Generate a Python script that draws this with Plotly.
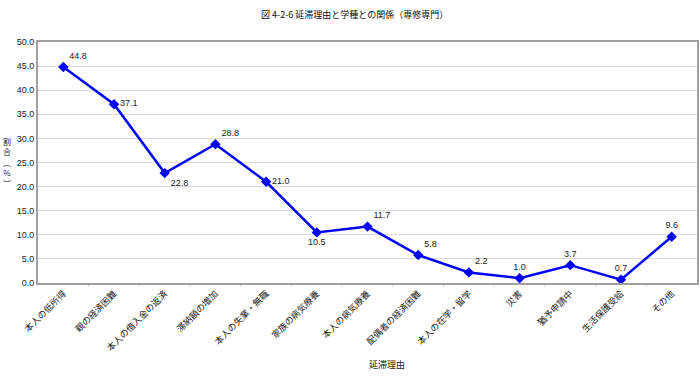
import plotly.graph_objects as go

categories = ["本人の低所得", "親の経済困難", "本人の借入金の返済", "滞納額の増加", "本人の失業・無職",
              "家族の病気療養", "本人の病気療養", "配偶者の経済困難", "本人の在学・留学", "災害",
              "猶予申請中", "生活保護受給", "その他"]
values = [44.8, 37.1, 22.8, 28.8, 21.0, 10.5, 11.7, 5.8, 2.2, 1.0, 3.7, 0.7, 9.6]
label_pos = ["top right", "middle right", "bottom right", "top right", "middle right", "bottom center",
             "top right", "top right", "top right", "top center", "top center", "top center", "top center"]
y_ticks = [0, 5, 10, 15, 20, 25, 30, 35, 40, 45, 50]
y_title_chars = ["割", "合", "︵", "%", "︶"]

FONT = "Liberation Sans, Noto Sans CJK JP, sans-serif"
CJK = "Noto Sans CJK JP, sans-serif"

fig = go.Figure()
fig.add_trace(go.Scatter(
    x=list(range(len(categories))), y=values,
    mode="lines+markers+text",
    line=dict(color="#0000FF", width=2.5),
    marker=dict(symbol="diamond", size=8, color="#0000FF"),
    text=[f"{v:.1f}" for v in values],
    textposition=label_pos,
    textfont=dict(size=9, color="#222222", family=FONT),
    cliponaxis=False,
    showlegend=False,
))

fig.update_layout(
    width=700, height=380,
    margin=dict(l=38, r=3, t=42, b=97),
    paper_bgcolor="white", plot_bgcolor="white",
    font=dict(family=FONT, size=9, color="#222222"),
    xaxis=dict(
        range=[-0.5, len(categories) - 0.5],
        tickmode="array", tickvals=list(range(len(categories))), ticktext=categories,
        tickangle=-45, showgrid=False, zeroline=False, automargin=False,
        showline=True, linecolor="#a0a0a0", linewidth=2, mirror=True,
        ticks="", tickfont=dict(size=9, family=CJK),
    ),
    yaxis=dict(
        range=[0, 50], tickmode="array", tickvals=y_ticks,
        ticktext=[f"{v:.1f}" for v in y_ticks], automargin=False,
        showgrid=True, gridcolor="#dcdcdc", gridwidth=1, zeroline=False,
        showline=True, linecolor="#a0a0a0", linewidth=2, mirror=True,
        ticks="", tickfont=dict(size=9, family=FONT),
    ),
)

# boundary tick marks between categories
for i in range(1, len(categories)):
    fig.add_shape(type="line", xref="x", yref="paper", x0=i - 0.5, x1=i - 0.5, y0=0, y1=-0.012,
                  line=dict(color="#a0a0a0", width=1))

fig.add_annotation(text="図 4-2-6 延滞理由と学種との関係（専修専門）", xref="paper", yref="paper",
                   x=0.48, y=1.0, yshift=28, yanchor="middle", showarrow=False,
                   font=dict(size=9, family=CJK, color="#111111"))
fig.add_annotation(text="延滞理由", xref="paper", yref="paper", x=0, xshift=329, y=0, yshift=-81,
                   yanchor="middle", showarrow=False, font=dict(size=9, family=CJK))
fig.add_annotation(text="<br>".join(y_title_chars), xref="paper", yref="paper", x=0, xshift=-31.5,
                   y=(283 - 162.5) / 241.0, yanchor="middle", xanchor="center", align="center",
                   showarrow=False, font=dict(size=8, family=CJK))

fig.write_html("out.html", config={"displayModeBar": False},
               post_script="document.body.style.margin='0';")
